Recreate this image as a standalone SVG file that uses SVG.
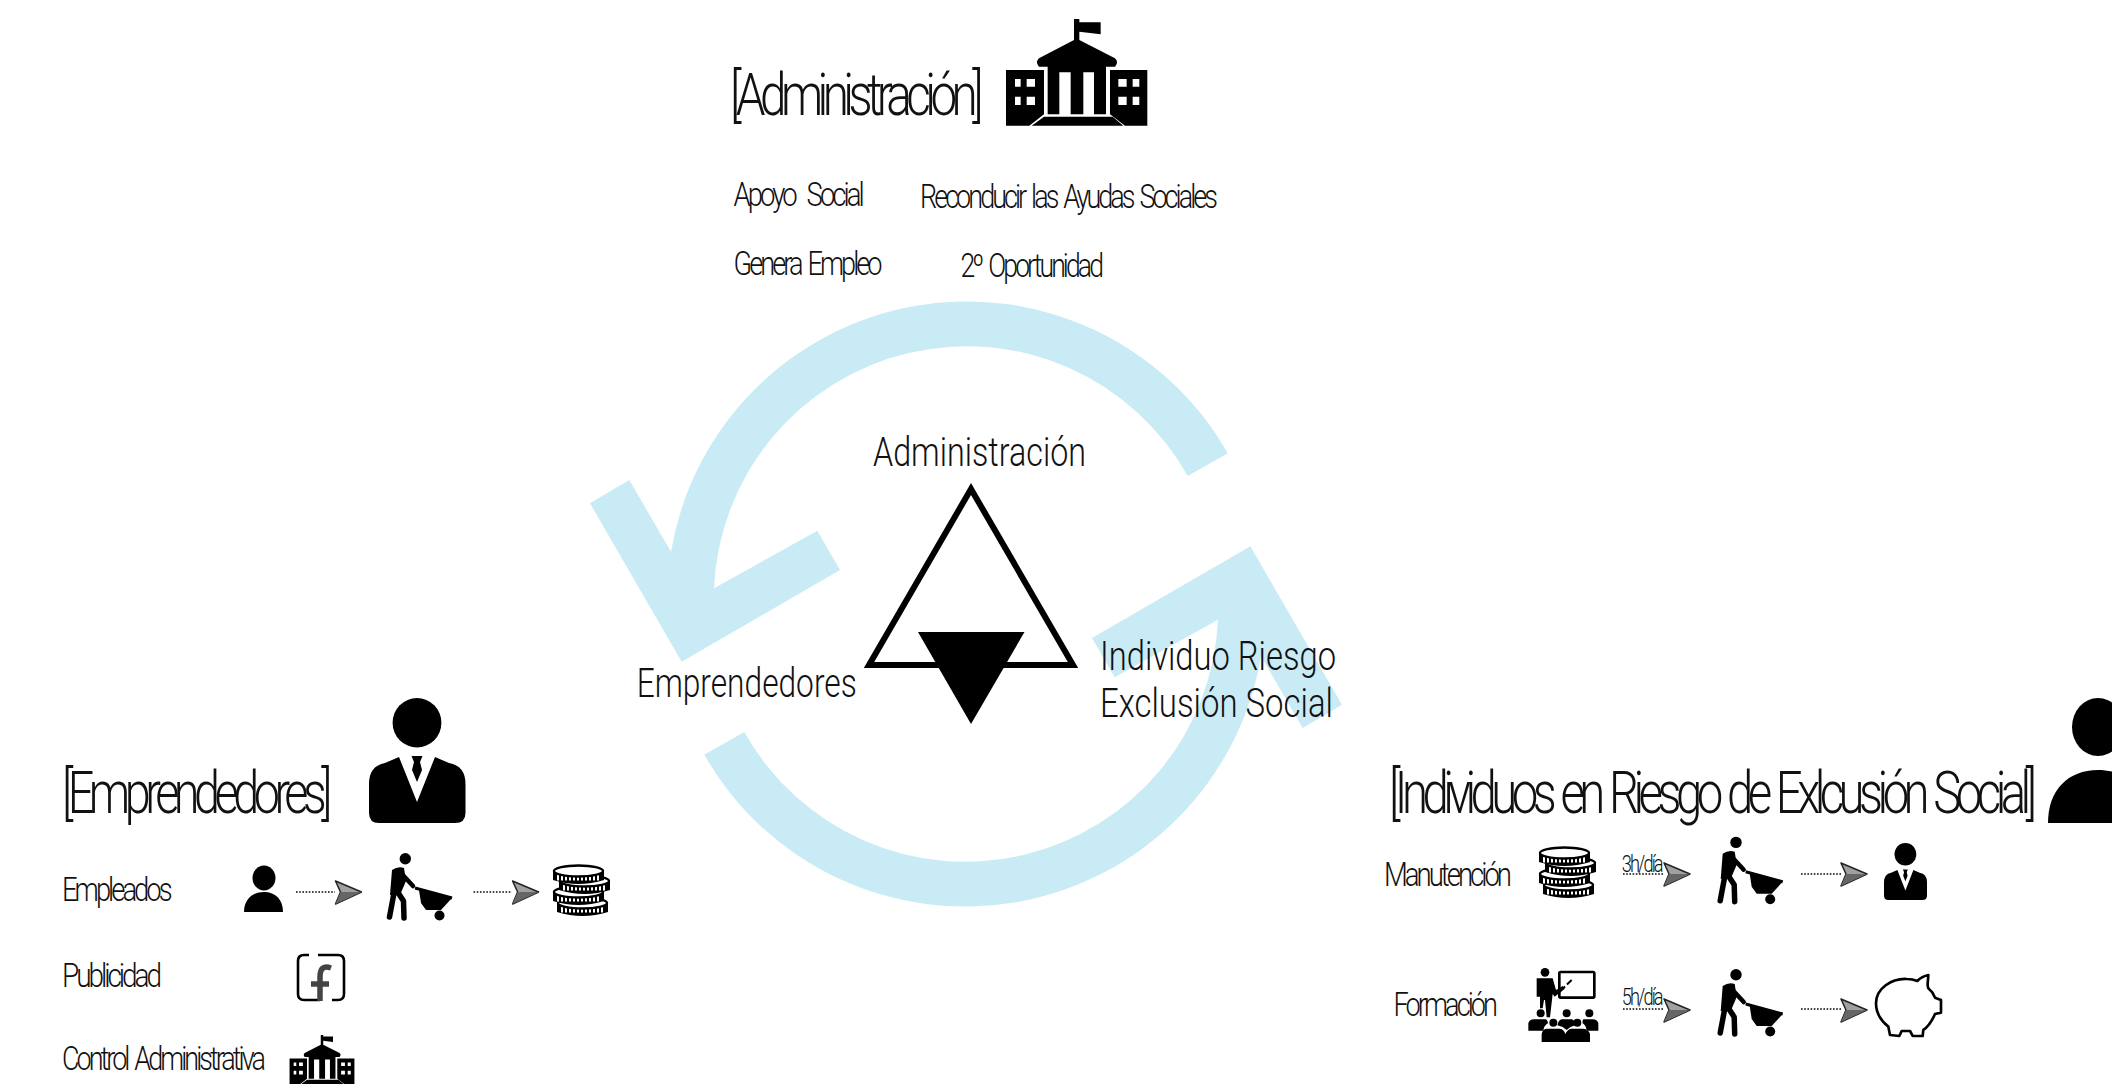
<svg xmlns="http://www.w3.org/2000/svg" width="2112" height="1086" viewBox="0 0 2112 1086">
<style>
text{font-family:"Roboto","Liberation Sans",Arial,sans-serif;font-weight:300;fill:#111}
.h{font-size:60px;letter-spacing:-7px;word-spacing:4px}
.m{font-size:33px;letter-spacing:-3.6px;word-spacing:4px}
.c{font-size:40px}
.s{font-size:24px;letter-spacing:-2.5px}
.cycle{fill:#c9ebf5}
.dot{stroke:#444;stroke-width:2;stroke-dasharray:1.6 1.6;fill:none}
.plane{fill:#a0a0a0;stroke:#222;stroke-width:1.5;stroke-linejoin:round}
.ln{fill:none;stroke:#000}
</style>
<defs>
<g id="building">
<path fill-rule="evenodd" d="M18 165H132V298L88 332H18ZM45 192V215H62V192ZM80 192V215H105V192ZM45 245V270H62V245ZM80 245V270H105V245Z"/>
<path fill-rule="evenodd" d="M330 165H442V332H375L330 298ZM355 192V215H380V192ZM398 192V215H418V192ZM355 245V270H380V245ZM398 245V270H418V245Z"/>
<path d="M222 12H238V22H302V58L238 50V75L345 130Q358 142 345 155H117Q104 142 117 130L222 75Z"/>
<path fill-rule="evenodd" d="M143 150H318V298H143ZM178 172V298H212V172ZM250 172V298H282V172Z"/>
<path d="M132 305H338L370 332H95Z"/>
</g>
<g id="tieperson">
<ellipse cx="48" cy="24.7" rx="24.4" ry="24.7"/>
<path d="M0 86Q0 68 16 65L30 59L48 104L66 59L80 65Q96.5 68 96.5 86V115Q96.5 125 86 125H10Q0 125 0 115Z"/>
<path d="M42.5 58H53.5L51 64L53 72L48 84L43 72L45 64Z"/>
</g>
<g id="worker">
<circle cx="19.3" cy="5.7" r="5.7"/>
<path d="M6 17Q12 13 18 15L20 28L14 42L4 42Z"/>
<path class="ln" stroke-width="5.5" stroke-linecap="round" stroke-linejoin="round" d="M8 40L3.5 64M11 38L17.5 48L18 65"/>
<path class="ln" stroke-width="4.5" stroke-linecap="round" d="M15 20L27 33"/>
<path class="ln" stroke-width="3" d="M29 35L66 45"/>
<path d="M33 37L66 45L55 57L40 57L35 50Z"/>
<circle cx="53.5" cy="62.5" r="5"/>
</g>
<g id="coin">
<path d="M0 6H51V15Q25.5 23 0 15Z"/>
<path d="M4 12.5H47" stroke="#fff" stroke-width="6" stroke-dasharray="2 2" fill="none"/>
<ellipse cx="25.5" cy="6" rx="24.5" ry="5.5" fill="#fff" stroke="#000" stroke-width="2.4"/>
</g>
<g id="coins">
<use href="#coin" x="4" y="32"/>
<use href="#coin" x="0" y="21"/>
<use href="#coin" x="6" y="10"/>
<use href="#coin" x="0" y="0"/>
</g>
<g id="plane">
<polygon class="plane" points="0,-11 26,0 0,12 5,0"/>
<polygon points="0,12 26,0 5,0" fill="#666"/>
</g>
</defs>

<g id="cycle">
<path class="cycle" d="M1227.7 453.3A300 300 0 0 0 671 551.7L629.3 480L590 503.3L681.6 661.7L840 570L817.3 530.7L714 588.3A253 253 0 0 1 1187.7 476Z"/>
<path class="cycle" d="M704.3 754.7A300 300 0 0 0 1261 656.3L1302.7 728L1342 704.7L1250.4 546.3L1092 638L1114.7 677.3L1218 619.7A253 253 0 0 1 744.3 732Z"/>
</g>

<g id="node-centro">
<polygon points="971,489 1073,665 869,665" fill="none" stroke="#000" stroke-width="6"/>
<polygon points="918,632 1024.5,632 971,724" fill="#000"/>
<text class="c" x="873" y="465.7" textLength="213" lengthAdjust="spacingAndGlyphs">Administración</text>
<text class="c" x="636.7" y="696.7" textLength="220" lengthAdjust="spacingAndGlyphs">Emprendedores</text>
<text class="c" x="1100" y="670" textLength="236" lengthAdjust="spacingAndGlyphs">Individuo Riesgo</text>
<text class="c" x="1100" y="717" textLength="233" lengthAdjust="spacingAndGlyphs">Exclusión Social</text>
</g>

<g id="node-administracion">
<text class="h" x="730" y="115" textLength="248" lengthAdjust="spacingAndGlyphs">[Administración]</text>
<use href="#building" transform="translate(1000 15) scale(.3333)"/>
<text class="m" x="733.6" y="205.7" textLength="128" lengthAdjust="spacingAndGlyphs" style="word-spacing:10px">Apoyo Social</text>
<text class="m" x="920" y="208" textLength="295" lengthAdjust="spacingAndGlyphs">Reconducir las Ayudas Sociales</text>
<text class="m" x="733.6" y="275" textLength="146" lengthAdjust="spacingAndGlyphs">Genera Empleo</text>
<text class="m" x="960.5" y="277" textLength="140.5" lengthAdjust="spacingAndGlyphs">2º Oportunidad</text>
</g>

<g id="node-emprendedores">
<text class="h" x="62" y="813" textLength="265" lengthAdjust="spacingAndGlyphs">[Emprendedores]</text>
<use href="#tieperson" x="369" y="698"/>
<text class="m" x="62" y="900.7" textLength="107.6" lengthAdjust="spacingAndGlyphs">Empleados</text>
<text class="m" x="62" y="987" textLength="97" lengthAdjust="spacingAndGlyphs">Publicidad</text>
<text class="m" x="62" y="1070" textLength="201" lengthAdjust="spacingAndGlyphs">Control Administrativa</text>
<g id="emp-persona"><ellipse cx="264" cy="878" rx="11.5" ry="12.5"/><path d="M244 912C244 900 252 892 264 892C276 892 283 900 283 912Z"/></g>
<use href="#worker" x="386" y="853"/>
<use href="#coins" x="553" y="865"/>
<g id="emp-facebook">
<path class="ln" stroke-width="2.6" d="M318 955H338Q344 955 344 961V994Q344 1000 338 1000H332M320 1000H304Q298 1000 298 994V961Q298 955 304 955H309"/>
<path fill="none" stroke="#444" stroke-width="5.5" d="M331 968Q320 964 320 977V1001M311 984H329"/>
</g>
<use href="#building" transform="translate(286.8 1033.2) scale(.153)"/>
</g>

<g id="node-individuos">
<text class="h" x="1389" y="813" textLength="642.5" lengthAdjust="spacingAndGlyphs">[Individuos en Riesgo de Exlcusión Social]</text>
<g id="ind-persona"><ellipse cx="2098" cy="727" rx="26" ry="29"/><path d="M2048 823C2048 790 2068 770 2098 770C2128 770 2148 790 2148 823Z"/></g>
<text class="m" x="1384" y="886" textLength="125" lengthAdjust="spacingAndGlyphs">Manutención</text>
<text class="m" x="1393.6" y="1016" textLength="101.4" lengthAdjust="spacingAndGlyphs">Formación</text>
<use href="#coins" x="1539" y="847"/>
<text class="s" x="1621.7" y="871.7" textLength="40" lengthAdjust="spacingAndGlyphs">3h/día</text>
<use href="#worker" x="1716.7" y="836.7"/>
<use href="#tieperson" transform="translate(1884 843) scale(.4456 .456)"/>
<g id="ind-formacion" transform="translate(1520 960) scale(.3333)">
<rect x="118" y="36" width="105" height="77" rx="4" fill="#fff" stroke="#000" stroke-width="8"/>
<path d="M118 96L155 60" stroke="#000" stroke-width="6" stroke-dasharray="24 8"/>
<circle cx="75" cy="37" r="13"/>
<path d="M50 55H98L108 90L128 78L134 86L104 110L98 102L90 172H80L75 120H72L68 145H60V110L50 110Z"/>
<circle cx="62" cy="160" r="12"/><circle cx="140" cy="160" r="12"/><circle cx="208" cy="160" r="12"/>
<circle cx="100" cy="188" r="12"/><circle cx="172" cy="188" r="12"/>
<path d="M25 212V190Q28 178 42 178H78Q84 182 84 190Q72 196 70 212ZM235 212V190Q232 178 218 178H190Q186 182 188 190Q198 196 200 212ZM112 196Q116 178 126 178H156Q164 180 166 196Q150 200 140 210Q130 200 112 196Z"/>
<path d="M65 246V222Q68 206 82 206H120Q132 208 136 222Q142 208 154 206H190Q206 208 210 222V246Z"/>
</g>
<text class="s" x="1621.7" y="1005" textLength="40" lengthAdjust="spacingAndGlyphs">5h/día</text>
<use href="#worker" x="1716.7" y="969"/>
<path id="ind-hucha" transform="translate(1860 830) scale(.3333)" fill="#fff" stroke="#000" stroke-width="8" stroke-linejoin="round" d="M90 615L85 590C60 570 48 545 48 520C48 475 95 445 140 447C155 447 165 450 172 453C180 445 190 438 205 435C205 450 200 465 205 475C215 483 222 495 225 503L243 510V548L225 552C215 575 205 590 190 600L188 618H158L150 603H125L118 618Z"/>
</g>

<g id="connectors">
<path class="dot" d="M296 892H335"/><use href="#plane" x="335.5" y="892"/>
<path class="dot" d="M473.5 892H512"/><use href="#plane" x="512.6" y="892"/>
<path class="dot" d="M1623 874H1664"/><use href="#plane" x="1664" y="874"/>
<path class="dot" d="M1801 874H1841"/><use href="#plane" x="1841" y="874"/>
<path class="dot" d="M1623 1009H1664"/><use href="#plane" x="1664" y="1010"/>
<path class="dot" d="M1801 1009H1841"/><use href="#plane" x="1841" y="1010"/>
</g>
</svg>
